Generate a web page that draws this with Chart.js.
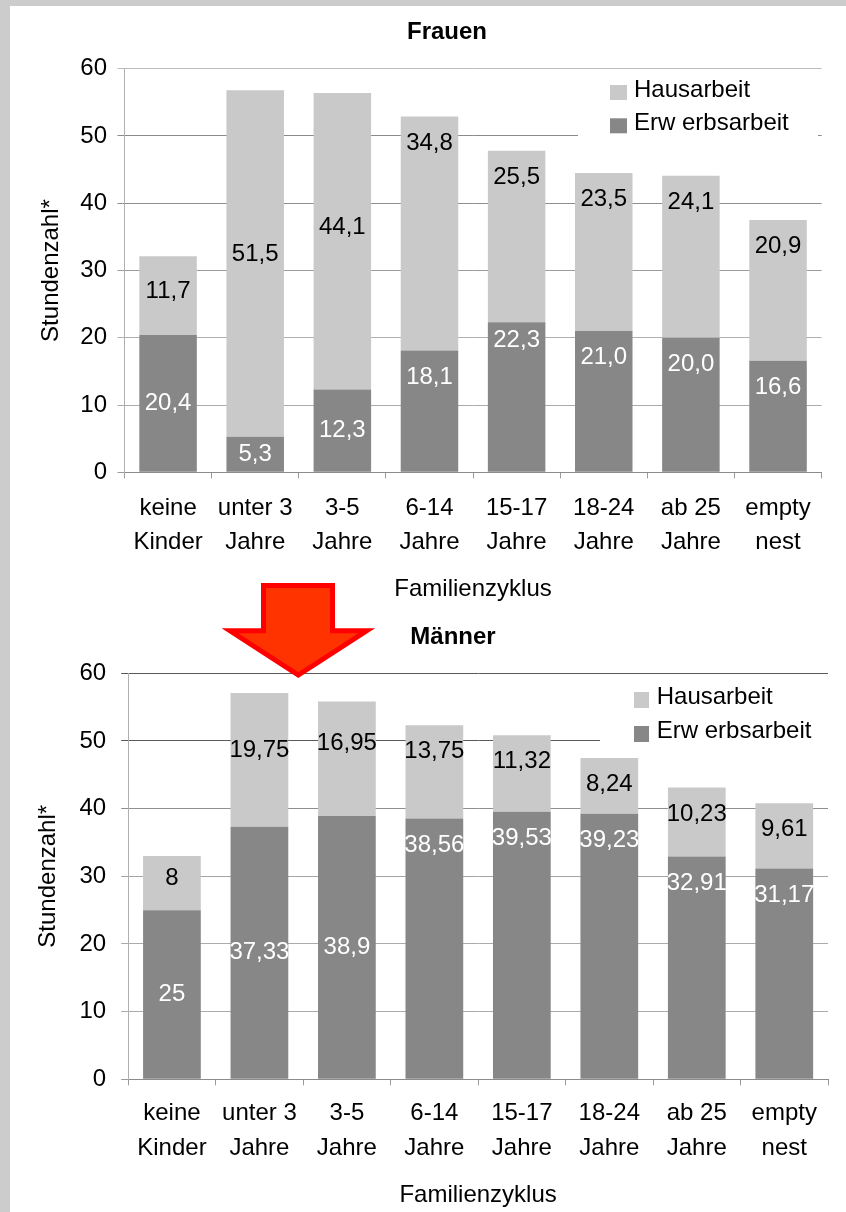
<!DOCTYPE html>
<html lang="de">
<head>
<meta charset="utf-8">
<title>Stundenzahl nach Familienzyklus – Frauen und Männer</title>
<script src="https://cdn.jsdelivr.net/npm/chart.js@4.4.1/dist/chart.umd.min.js"></script>
<style>
  html, body { margin: 0; padding: 0; width: 846px; height: 1212px; overflow: hidden; background: #cccccc; }
  #panel { position: absolute; left: 10px; top: 6px; width: 836px; height: 1206px; background: #ffffff; }
  #frauen { position: absolute; left: 0; top: 0; }
  #maenner { position: absolute; left: 0; top: 600px; }
  #arrow { position: absolute; left: 0; top: 0; pointer-events: none; }
</style>
</head>
<body>
<div id="panel">
  <canvas id="frauen" width="836" height="600"></canvas>
  <canvas id="maenner" width="836" height="606"></canvas>
  <svg id="arrow" width="836" height="1206" viewBox="0 0 836 1206">
    <polygon points="253.5,579.5 322.5,579.5 322.5,624.8 356.7,624.8 288.3,669 220,624.8 253.5,624.8"
             fill="#ff3300" stroke="#ff0000" stroke-width="5" stroke-linejoin="miter"/>
  </svg>
</div>
<script>
// Familienzyklus categories (two-line tick labels)
const categories = [
  ['keine', 'Kinder'], ['unter 3', 'Jahre'], ['3-5', 'Jahre'], ['6-14', 'Jahre'],
  ['15-17', 'Jahre'], ['18-24', 'Jahre'], ['ab 25', 'Jahre'], ['empty', 'nest']
];
const seriesNames = ['Erw erbsarbeit', 'Hausarbeit'];

// Weekly hours, women
const frauenErwerb = [20.4, 5.3, 12.3, 18.1, 22.3, 21.0, 20.0, 16.6];
const frauenHaus   = [11.7, 51.5, 44.1, 34.8, 25.5, 23.5, 24.1, 20.9];

// Weekly hours, men
const maennerErwerb = [25, 37.33, 38.9, 38.56, 39.53, 39.23, 32.91, 31.17];
const maennerHaus   = [8, 19.75, 16.95, 13.75, 11.32, 8.24, 10.23, 9.61];

const yTicks = [0, 10, 20, 30, 40, 50, 60];
const yAxisTitle = 'Stundenzahl*';
const xAxisTitle = 'Familienzyklus';

const FONT = "'Liberation Sans', Arial, Helvetica, sans-serif";
Chart.defaults.font.family = FONT;
Chart.defaults.color = '#000000';

const DARK = '#878787';
const LIGHT = '#c9c9c9';

// Bold heading above each panel
const headingPlugin = {
  id: 'heading',
  afterDraw(chart, args, o) {
    const ctx = chart.ctx;
    ctx.save();
    ctx.font = `bold ${o.size}px ${FONT}`;
    ctx.fillStyle = '#000';
    ctx.textAlign = 'center';
    ctx.textBaseline = 'middle';
    ctx.fillText(o.text, o.x, o.y);
    ctx.restore();
  }
};

// Value written inside each stacked segment
const valueLabelPlugin = {
  id: 'valueLabels',
  afterDatasetsDraw(chart, args, o) {
    const ctx = chart.ctx;
    ctx.save();
    ctx.font = `${o.size}px ${FONT}`;
    ctx.textAlign = 'center';
    ctx.textBaseline = 'middle';
    chart.data.datasets.forEach((ds, di) => {
      const meta = chart.getDatasetMeta(di);
      meta.data.forEach((bar, i) => {
        const top = Math.min(bar.y, bar.base);
        const bottom = Math.max(bar.y, bar.base);
        const p = o.placement[di][i];
        const y = p === 'top' ? top + o.topOffset : top + (bottom - top) * p;
        ctx.fillStyle = o.colors[di];
        ctx.fillText(o.format(ds.data[i]), bar.x, y);
      });
    });
    ctx.restore();
  }
};

// Legend box in the upper right corner of the plot
const boxLegendPlugin = {
  id: 'boxLegend',
  beforeDatasetsDraw(chart, args, o) {
    const ctx = chart.ctx;
    ctx.save();
    ctx.fillStyle = '#ffffff';
    ctx.fillRect(o.bg.x, o.bg.y, o.bg.w, o.bg.h);
    ctx.restore();
  },
  afterDatasetsDraw(chart, args, o) {
    const ctx = chart.ctx;
    const items = chart.data.datasets.slice().reverse();
    ctx.save();
    ctx.font = `${o.size}px ${FONT}`;
    ctx.textAlign = 'left';
    ctx.textBaseline = 'middle';
    items.forEach((ds, k) => {
      const y = o.y + k * o.rowGap;
      ctx.fillStyle = ds.backgroundColor;
      ctx.fillRect(o.x, y, o.sw, o.sh);
      ctx.fillStyle = '#000';
      ctx.fillText(ds.label, o.textX, y + o.textDy);
    });
    ctx.restore();
  }
};

function buildChart(id, s) {
  return new Chart(document.getElementById(id), {
    type: 'bar',
    data: {
      labels: categories,
      datasets: [
        { label: seriesNames[0], data: s.erwerb, backgroundColor: DARK },
        { label: seriesNames[1], data: s.haus, backgroundColor: LIGHT }
      ]
    },
    options: {
      responsive: false,
      animation: false,
      devicePixelRatio: 1,
      events: [],
      layout: { padding: { top: s.padTop, right: s.padRight, left: 0, bottom: 0 } },
      datasets: { bar: { categoryPercentage: 1, barPercentage: 0.66 } },
      scales: {
        x: {
          stacked: true,
          grid: { drawOnChartArea: false, tickLength: 6, color: '#9a9a9a' },
          border: { color: '#8c8c8c' },
          ticks: {
            font: { size: 24, lineHeight: s.xLine },
            padding: s.xPad, color: '#000', maxRotation: 0, minRotation: 0, autoSkip: false
          },
          title: {
            display: true, text: xAxisTitle, color: '#000',
            font: { size: 24 }, padding: { top: 0, bottom: s.xTitlePad }
          },
          afterFit(sc) { sc.height = s.xHeight; }
        },
        y: {
          stacked: true,
          min: 0,
          max: 60,
          afterBuildTicks(sc) { sc.ticks = yTicks.map(v => ({ value: v })); },
          ticks: { font: { size: 24 }, padding: s.yPad, color: '#000' },
          grid: {
            tickLength: 7,
            color: ctx => (ctx.tick && s.grid[ctx.tick.value]) || '#aaaaaa'
          },
          border: { color: '#b0b0b0' },
          title: {
            display: true, text: yAxisTitle, color: '#000',
            font: { size: 24 }, padding: { top: s.yTitlePad, bottom: 0 }
          },
          afterFit(sc) { sc.width = s.yWidth; }
        }
      },
      plugins: {
        legend: { display: false },
        tooltip: { enabled: false },
        heading: s.heading,
        valueLabels: {
          size: 24,
          colors: ['#ffffff', '#000000'],
          topOffset: 26.5,
          placement: s.placement,
          format: s.format
        },
        boxLegend: s.legend
      }
    },
    plugins: [headingPlugin, valueLabelPlugin, boxLegendPlugin]
  });
}

buildChart('frauen', {
  erwerb: frauenErwerb,
  haus: frauenHaus,
  padTop: 62.7, padRight: 24.4,
  yWidth: 114.5, yPad: 10.5, yTitlePad: 27,
  xHeight: 133.7, xPad: 12.7, xLine: 1.417, xTitlePad: 2.6,
  grid: { 0: '#9a9a9a', 10: '#ababab', 20: '#b0b0b0', 30: '#9c9c9c', 40: '#8f8f8f', 50: '#8a8a8a', 60: '#bcbcbc' },
  heading: { text: 'Frauen', size: 24, x: 437, y: 26 },
  placement: [
    [0.5, 0.5, 0.5, 'top', 0.12, 'top', 'top', 'top'],
    [0.445, 0.473, 0.454, 'top', 'top', 'top', 'top', 'top']
  ],
  format: v => v.toFixed(1).replace('.', ','),
  legend: {
    bg: { x: 568, y: 66, w: 240, h: 80 },
    x: 600, y: 79, sw: 17, sh: 15, rowGap: 33.3,
    textX: 624, textDy: 5, size: 24
  }
});

buildChart('maenner', {
  erwerb: maennerErwerb,
  haus: maennerHaus,
  padTop: 67.3, padRight: 18,
  yWidth: 118.2, yPad: 15, yTitlePad: 23.5,
  xHeight: 132.7, xPad: 10.2, xLine: 1.458, xTitlePad: 2.6,
  grid: { 0: '#999999', 10: '#ababab', 20: '#ababab', 30: '#a5a5a5', 40: '#8f8f8f', 50: '#5a5a5a', 60: '#5a5a5a' },
  heading: { text: 'Männer', size: 24, x: 443, y: 31 },
  placement: [
    [0.5, 0.5, 0.5, 'top', 'top', 'top', 'top', 'top'],
    [0.41, 0.426, 0.365, 'top', 'top', 'top', 'top', 'top']
  ],
  format: v => String(v).replace('.', ','),
  legend: {
    bg: { x: 590, y: 74, w: 238, h: 72 },
    x: 624, y: 86, sw: 15, sh: 16, rowGap: 34,
    textX: 646.7, textDy: 5.3, size: 24
  }
});
</script>
</body>
</html>
